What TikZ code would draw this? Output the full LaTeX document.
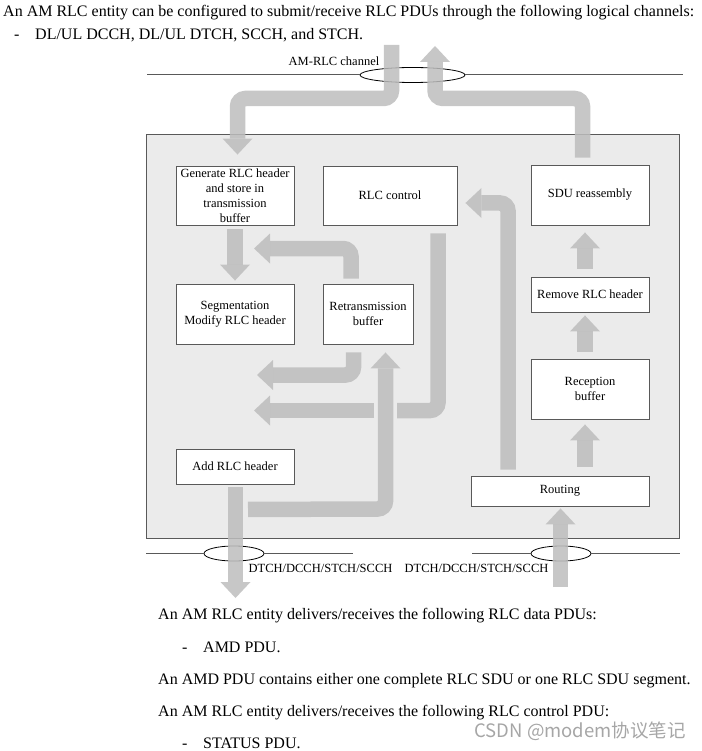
\documentclass[tikz,border=0pt]{standalone}
\usepackage{fontspec}
\setmainfont{Liberation Serif}
\newfontfamily\cjk{Noto Sans CJK SC}
\usetikzlibrary{positioning,shapes.geometric,arrows.meta,calc}
\definecolor{rlcline}{HTML}{595959}
\definecolor{rlcbg}{HTML}{EBEBEB}
\definecolor{rlcarrow}{HTML}{BDBDBD}
\definecolor{rlcmark}{HTML}{A6A6A6}

\begin{document}
\begin{tikzpicture}[x=1pt,y=-1pt,
  blk/.style={draw=rlcline,fill=white,line width=0.9pt,inner sep=1pt,align=center,
              font=\fontsize{12.5}{15}\selectfont},
  flow/.style={draw=rlcarrow,opacity=0.85,line width=15.5pt,rounded corners=8pt,
               -{Triangle[width=30pt,length=16pt,line width=0pt]}},
  bar/.style={draw=rlcarrow,opacity=0.85,line width=15.5pt,rounded corners=8pt},
  chan/.style={draw=rlcline,line width=1pt},
  ring/.style={ellipse,draw,line width=0.8pt,inner sep=0pt},
  lbl/.style={font=\fontsize{12.5}{15}\selectfont,inner sep=0pt},
  txt/.style={font=\fontsize{16}{19}\selectfont,inner sep=0pt,anchor=base west}]
\useasboundingbox (0,0) rectangle (701,751);

% entity frame
\draw[draw=rlcline,fill=rlcbg,line width=1pt] (146,135) rectangle (679,538);

% channels
\node[ring,minimum width=105pt,minimum height=15pt] (ringT) at (412.5,75) {};
\node[ring,minimum width=60pt,minimum height=15pt] (ringL) at (234,553.5) {};
\node[ring,minimum width=60pt,minimum height=15pt] (ringR) at (561,553.5) {};
\draw[chan] (147,75) -- (ringT.west);
\draw[chan] (ringT.east) -- (683,75);
\draw[chan] (146,553.5) -- (ringL.west);
\draw[chan] (ringL.east) -- (353,553.5);
\draw[chan] (472,553.5) -- (ringR.west);
\draw[chan] (ringR.east) -- (680,553.5);
\node[lbl] (chT) at (334,61) {AM-RLC channel};
\node[lbl] (chL) at (320.5,568) {DTCH/DCCH/STCH/SCCH};
\node[lbl] (chR) at (476.5,568) {DTCH/DCCH/STCH/SCCH};

% blocks
\node[blk,minimum width=118pt,minimum height=59pt] (gen) at (235,195.5)
  {Generate RLC header\\and store in\\transmission\\buffer};
\node[blk,minimum width=134pt,minimum height=59pt] (ctrl) at (390,195.5) {RLC control};
\node[blk,minimum width=118pt,minimum height=60pt] (sdu) at (590,195) {SDU reassembly};
\node[blk,minimum width=118pt,minimum height=60pt] (seg) at (235,314)
  {Segmentation\\Modify RLC header};
\node[blk,minimum width=90pt,minimum height=60pt] (retx) at (368,314)
  {Retransmission\\buffer};
\node[blk,minimum width=118pt,minimum height=35pt] (rmv) at (590,294.5) {Remove RLC header};
\node[blk,minimum width=118pt,minimum height=60pt] (rcv) at (590,389) {Reception\\buffer};
\node[blk,minimum width=118pt,minimum height=35pt] (add) at (235,466.5) {Add RLC header};
\node[blk,minimum width=178pt,minimum height=30pt] (rout) at (560,491) {Routing};

% free ends
\coordinate (inTop) at (391.5,45);
\coordinate (outTop) at (435,46);
\coordinate (retA) at (254,248.5);
\coordinate (retB) at (257,375);
\coordinate (gapR) at (397,410.5);
\coordinate (gapL) at (374,410.5);
\coordinate (ctlB) at (254,410.5);
\coordinate (addOut) at (235.5,598);
\coordinate (inBot) at (560.5,587);

% data flow
\draw[flow] (inTop) -- (391.5,98.5) -- (237.5,98.5) -- ($(gen.north)+(2.5,-11)$);
\draw[flow] ($(sdu.north)+(-7.5,-7)$) -- (582.5,98.5) -- (435,98.5) -- (outTop);
\draw[flow] ($(gen.south)+(0,4)$) -- ($(seg.north)+(0,-3)$);
\draw[flow] ($(retx.north)+(-17,-5)$) -- (351,248.5) -- (retA);
\draw[flow] ($(retx.south)+(-14.5,8)$) -- (353.5,375) -- (retB);
\draw[bar] ($(ctrl.south)+(48,8)$) -- (438,410.5) -- (gapR);
\draw[flow] (gapL) -- (ctlB);
\draw[flow] ($(add.south)+(13,25)$) -- (385.5,509) -- ($(retx.south)+(17.5,8)$);
\draw[flow] ($(add.south)+(0.5,3)$) -- (addOut);
\draw[flow] ($(rout.north)+(-52,-6)$) -- (508,203) -- ($(ctrl.east)+(8,7.5)$);
\draw[flow] ($(rout.north)+(25,-9)$) -- ($(rcv.south)+(-5,5)$);
\draw[flow] ($(rcv.north)+(-5,-7)$) -- ($(rmv.south)+(-5,3)$);
\draw[flow] ($(rmv.north)+(-5,-8)$) -- ($(sdu.south)+(-5,7)$);
\draw[flow] (inBot) -- ($(rout.south)+(0.5,2)$);

% surrounding text
\node[txt] (t1) at (3,17) {An AM RLC entity can be configured to submit/receive RLC PDUs through the following logical channels:};
\node[txt] (d1) at (14,40) {-};
\node[txt] (t2) at (35,40) {DL/UL DCCH, DL/UL DTCH, SCCH, and STCH.};
\node[txt] (t3) at (158,619) {An AM RLC entity delivers/receives the following RLC data PDUs:};
\node[txt] (d2) at (182,652) {-};
\node[txt] (t4) at (203,652) {AMD PDU.};
\node[txt] (t5) at (158,684) {An AMD PDU contains either one complete RLC SDU or one RLC SDU segment.};
\node[txt] (t6) at (158,716) {An AM RLC entity delivers/receives the following RLC control PDU:};
\node[txt] (d3) at (182,748) {-};
\node[txt] (t7) at (203,748) {STATUS PDU.};
\node[font=\cjk\fontsize{18.5}{22}\selectfont,text=rlcmark,anchor=east,inner sep=0pt] (mark)
  at (686,731) {CSDN @modem协议笔记};
\end{tikzpicture}
\end{document}
